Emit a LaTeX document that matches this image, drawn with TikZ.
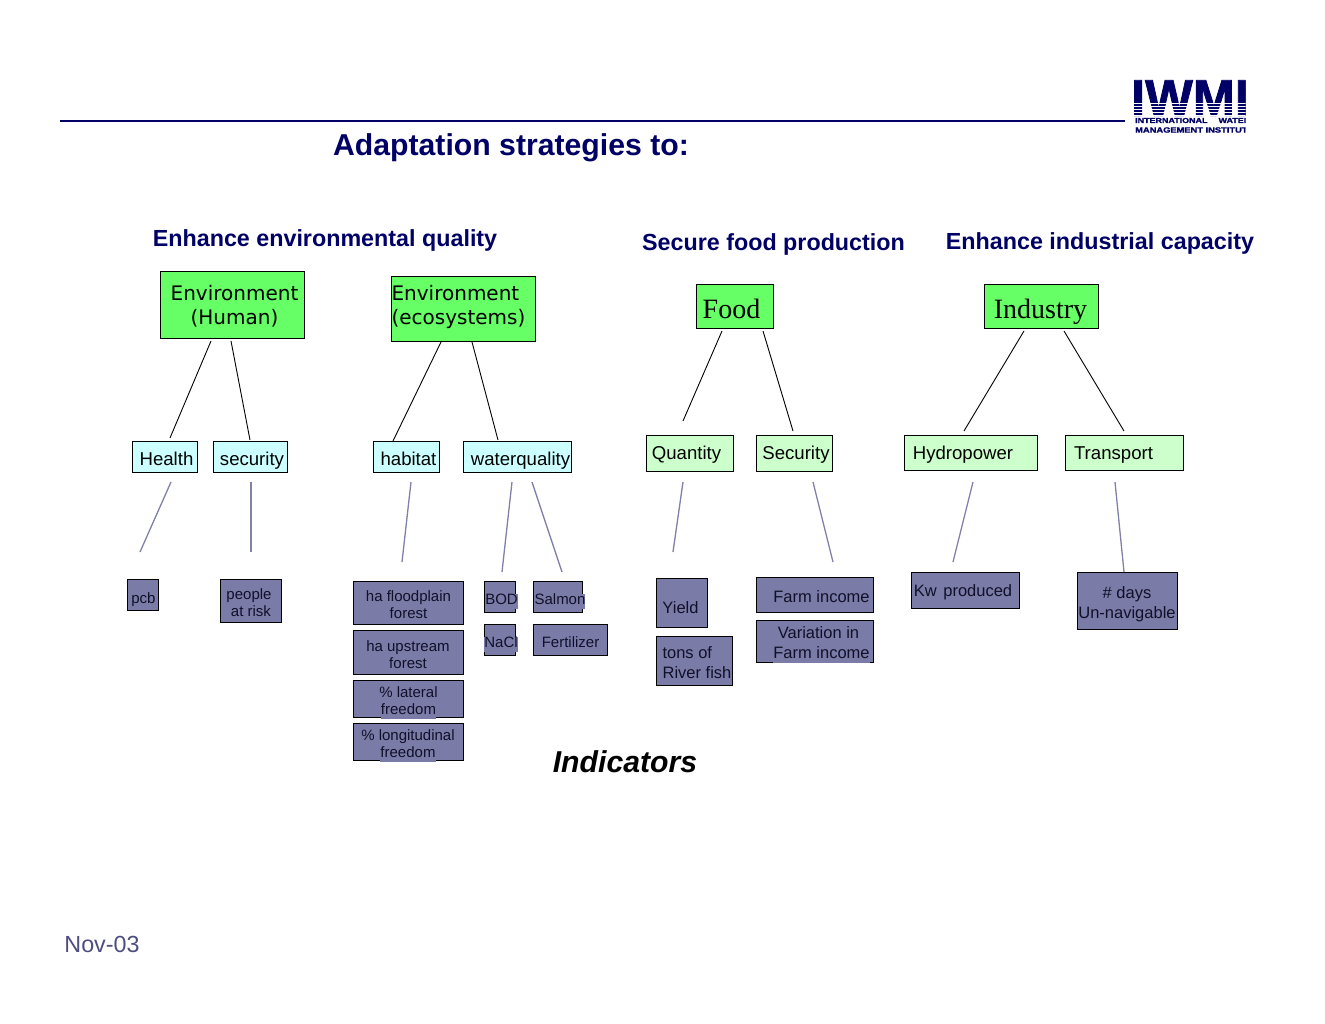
\documentclass[tikz,border=0pt]{standalone}
\usepackage{fontspec}
\setmainfont{Liberation Sans}
\newfontfamily\dejavu{DejaVu Sans}
\newfontfamily\libserif{Liberation Serif}
\newfontfamily\logofont[FakeBold=1.5]{Liberation Sans Bold}
\definecolor{navy}{HTML}{000066}
\definecolor{brightgreen}{HTML}{66FF66}
\definecolor{palecyan}{HTML}{CCFFFF}
\definecolor{palegreen}{HTML}{CCFFCC}
\definecolor{slatefill}{HTML}{7B7BA8}
\definecolor{slateline}{HTML}{8080A8}
\definecolor{datecol}{HTML}{4D4D80}
\definecolor{inkdark}{HTML}{10102A}
\tikzset{
  boxbase/.style={draw=black,line width=1pt,inner sep=0pt,outer sep=0pt,anchor=center},
  topbox/.style={boxbase,fill=brightgreen},
  cyanbox/.style={boxbase,fill=palecyan},
  lgbox/.style={boxbase,fill=palegreen},
  indbox/.style={boxbase,fill=slatefill},
  labeltxt/.style={inner sep=0pt,outer sep=0pt,align=center,anchor=center,font=\fontsize{18.6}{20}\selectfont,text=black},
  indtxt/.style={labeltxt,font=\fontsize{15}{17}\selectfont,text=inkdark},
  indtxtb/.style={labeltxt,font=\fontsize{16.5}{20}\selectfont,text=inkdark},
  dejatxt/.style={labeltxt,font=\dejavu\fontsize{20}{24}\selectfont},
  serftxt/.style={labeltxt,font=\libserif\fontsize{28}{30}\selectfont},
  headtxt/.style={inner sep=0pt,outer sep=0pt,anchor=center,font=\bfseries\fontsize{23.3}{26}\selectfont,text=navy},
  blackconn/.style={draw=black,line width=0.9pt},
  slateconn/.style={draw=slateline,line width=1.3pt},
}
% name, x0, y0, x1, y1, box style, text style, text x, text y, text
\newcommand{\bx}[9]{%
  \node[#6,minimum width={(#4-#2)*1pt},minimum height={(#5-#3)*1pt}] (#1) at ({(#2+#4)/2},{(#3+#5)/2}) {};%
  \bxlabel{#1}{#7}{#8}{#9}}
\newcommand{\bxlabel}[4]{\node[#2] (#1-t) at (#3) {#4};}
\newcommand{\cn}[6]{%
  \coordinate (#1-a) at (#3,#4);\coordinate (#1-b) at (#5,#6);%
  \draw[#2] (#1-a) -- (#1-b);}
\newcommand{\cb}[1]{{\setlength{\fboxsep}{0pt}\colorbox{slatefill}{\rule[-4pt]{0pt}{10pt}#1}}}
\begin{document}
\begin{tikzpicture}[x=1pt,y=-1pt]
\useasboundingbox[fill=white] (0,0) rectangle (1325,1024);
% rule and logo
\coordinate (ruleL) at (60,121);
\coordinate (ruleR) at (1125,121);
\draw[navy,line width=2pt] (ruleL) -- (ruleR);
\begin{scope}
\clip (1134,78) rectangle (1245.5,136);
\node[inner sep=0pt,anchor=center,text=navy] (logoword) at (1190,98) {\scalebox{2.02}[2.05]{\logofont\fontsize{25}{25}\selectfont IWMI}};
\foreach \yy in {103,106,109,112,115}{\draw[white,line width=0.7pt] (1134,\yy) -- (1245.5,\yy);}
\node[inner sep=0pt,anchor=west,text=navy] (logoa) at (1135,120.5) {\scalebox{1.24}[1]{\logofont\fontsize{7.2}{8}\selectfont INTERNATIONAL\hspace{9pt}WATER}};
\node[inner sep=0pt,anchor=west,text=navy] (logob) at (1135,130) {\scalebox{1.21}[1]{\logofont\fontsize{7.7}{8}\selectfont MANAGEMENT INSTITUTE}};
\end{scope}
% headings
\node[headtxt,font=\bfseries\fontsize{30.2}{34}\selectfont] (title) at (511,148) {Adaptation strategies to:};
\node[headtxt] (h1) at (325,240.5) {Enhance environmental quality};
\node[headtxt] (h2) at (773.5,244.5) {Secure food production};
\node[headtxt] (h3) at (1100,243.5) {Enhance industrial capacity};
\node[headtxt,font=\bfseries\itshape\fontsize{30.2}{34}\selectfont,text=black] (indic) at (625,762) {Indicators};
\node[inner sep=0pt,anchor=center,text=datecol,font=\fontsize{23.3}{26}\selectfont] (date) at (102,944) {Nov-03};
% top boxes
\bx{envh}{160.5}{271.5}{304.5}{338.5}{topbox}{dejatxt}{234.5,306.5}{Environment\\(Human)}
\bx{enve}{391.5}{276.5}{535.5}{341.5}{topbox}{dejatxt,align=left}{458.5,306.5}{Environment\\(ecosystems)}
\bx{food}{696.5}{284.5}{773.5}{328.5}{topbox}{serftxt}{731.5,308.5}{Food}
\bx{indu}{984.5}{284.5}{1098.5}{328.5}{topbox}{serftxt}{1040.5,311.5}{Industry}
% second row
\bx{health}{132.5}{441.5}{197.5}{472.5}{cyanbox}{labeltxt}{166.5,459}{Health}
\bx{secu}{213.5}{441.5}{287.5}{472.5}{cyanbox}{labeltxt}{252,461}{security}
\bx{habi}{373.5}{441.5}{439.5}{472.5}{cyanbox}{labeltxt}{408.5,459}{habitat}
\bx{wq}{463.5}{441.5}{571.5}{472.5}{cyanbox}{labeltxt}{520.5,461}{waterquality}
\bx{quan}{646.5}{435.5}{733.5}{471.5}{lgbox}{labeltxt}{686.5,455}{Quantity}
\bx{fsec}{756.5}{435.5}{832.5}{471.5}{lgbox}{labeltxt}{796,455}{Security}
\bx{hydro}{904.5}{435.5}{1037.5}{470.5}{lgbox}{labeltxt}{963,455}{Hydropower}
\bx{trans}{1065.5}{435.5}{1183.5}{470.5}{lgbox}{labeltxt}{1113.5,455}{Transport}
% indicators
\bx{pcb}{127.5}{579.5}{158.5}{610.5}{indbox}{indtxt}{143.5,599.5}{pcb}
\bx{risk}{220.5}{579.5}{281.5}{622.5}{indbox}{indtxt}{250,603}{\hspace{-2pt}people\\\hspace{2pt}at risk}
\bx{flood}{353.5}{581.5}{463.5}{624.5}{indbox}{indtxt}{408.5,604.5}{ha floodplain\\forest}
\bx{upst}{353.5}{630.5}{463.5}{674.5}{indbox}{indtxt}{408,654.5}{ha upstream\\forest}
\bx{later}{353.5}{680.5}{463.5}{717.5}{indbox}{indtxt}{408.5,703}{\% lateral\\\cb{freedom}}
\bx{longi}{353.5}{723.5}{463.5}{760.5}{indbox}{indtxt}{408,746}{\% longitudinal\\\cb{freedom}}
\bx{bod}{484.5}{581.5}{515.5}{612.5}{indbox}{indtxt}{501.5,601.5}{\cb{BOD}}
\bx{nacl}{484.5}{624.5}{515.5}{655.5}{indbox}{indtxt}{501,644.5}{\cb{NaCl}}
\bx{salm}{533.5}{581.5}{582.5}{612.5}{indbox}{indtxt}{560,601.5}{\cb{Salmon}}
\bx{fert}{533.5}{624.5}{607.5}{655.5}{indbox}{indtxt}{570.5,642}{Fertilizer}
\bx{yield}{656.5}{578.5}{707.5}{627.5}{indbox}{indtxtb}{680.5,607.5}{Yield}
\bx{tons}{656.5}{636.5}{732.5}{685.5}{indbox}{indtxtb}{697,663}{\makebox[69pt][l]{tons of}\\River fish}
\bx{farm}{756.5}{577.5}{873.5}{612.5}{indbox}{indtxtb}{821.5,597}{Farm income}
\bx{vari}{756.5}{620.5}{873.5}{662.5}{indbox}{indtxtb}{821.5,645}{\hspace{-6pt}Variation in\\\cb{Farm income}}
\bx{kw}{911.5}{572.5}{1019.5}{608.5}{indbox}{indtxtb}{963,592.5}{Kw\hspace{2pt} produced}
\bx{days}{1077.5}{572.5}{1177.5}{629.5}{indbox}{indtxtb}{1127,604}{\# days\\Un-navigable}
% black connectors
\cn{c1}{blackconn}{211}{341}{170}{438}
\cn{c2}{blackconn}{231}{341}{250}{440}
\cn{c3}{blackconn}{441}{342}{393}{441}
\cn{c4}{blackconn}{472}{342}{498}{440}
\cn{c5}{blackconn}{722}{331}{683}{421}
\cn{c6}{blackconn}{763}{331}{793}{431}
\cn{c7}{blackconn}{1024}{331}{964}{431}
\cn{c8}{blackconn}{1064}{331}{1124}{431}
% slate connectors
\cn{d1}{slateconn}{171}{482}{140}{552}
\cn{d2}{slateconn}{251}{482}{251}{552}
\cn{d3}{slateconn}{411}{482}{402}{562}
\cn{d4}{slateconn}{512}{482}{502}{572}
\cn{d5}{slateconn}{532}{482}{562}{572}
\cn{d6}{slateconn}{683}{482}{673}{552}
\cn{d7}{slateconn}{813}{482}{833}{562}
\cn{d8}{slateconn}{973}{482}{953}{562}
\cn{d9}{slateconn}{1115}{482}{1124}{572}
\end{tikzpicture}
\end{document}
